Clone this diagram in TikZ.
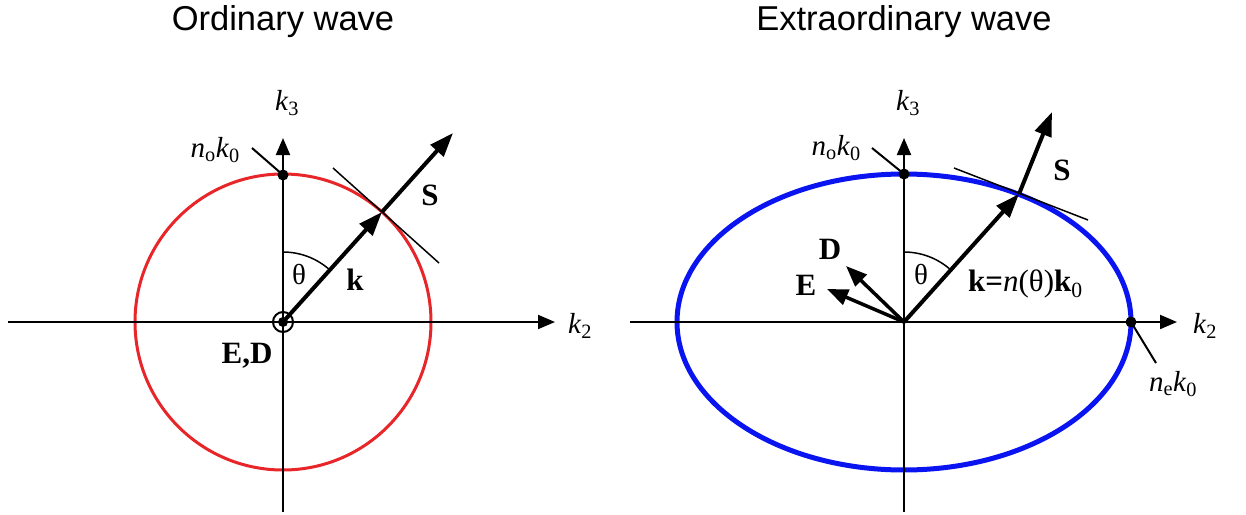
\documentclass[tikz,border=0pt]{standalone}
\usepackage{fontspec}
\setmainfont{Liberation Serif}
\newfontfamily\titlefont{Liberation Sans}
\usetikzlibrary{arrows.meta}
\definecolor{ordcol}{HTML}{E8262A}
\definecolor{extcol}{HTML}{0A14F0}
\newcommand{\nok}[1]{\textit{n}\textsubscript{#1}\textit{k}\textsubscript{0}}

\begin{document}
\begin{tikzpicture}[x=1pt,y=-1pt,
  title/.style={font=\titlefont\fontsize{34.5}{40}\selectfont},
  lbl/.style={font=\fontsize{29}{33}\selectfont,inner sep=0pt},
  vlbl/.style={font=\fontsize{31}{35}\selectfont\bfseries,inner sep=0pt},
  axis/.style={line width=2pt,-{Triangle[length=17pt,width=14pt]}},
  vec/.style={line width=4pt,-{Triangle[length=24pt,width=17pt]}},
  fld/.style={line width=3.5pt,-{Triangle[length=21pt,width=16pt]}},
  tang/.style={line width=1.5pt},
  lead/.style={line width=2pt},
  dot/.style={circle,fill,inner sep=0pt,minimum size=11pt}]
  \useasboundingbox (0,0) rectangle (1246,514);

  % ordinary wave
  \node[title] (otitle) at (283,22) {Ordinary wave};
  \coordinate (o) at (283,322);
  \draw[ordcol,line width=3pt] (o) circle[radius=148];
  \coordinate (oleft) at (8,322);
  \coordinate (oright) at (555,322);
  \coordinate (obot) at (283,512);
  \coordinate (otop) at (283,138);
  \draw[axis] (oleft) -- (oright);
  \draw[axis] (obot) -- (otop);
  \node[lbl] (ok2) at (580,326) {\textit{k}\textsubscript{2}};
  \node[lbl] (ok3) at (287,103) {\textit{k}\textsubscript{3}};
  \node[dot] (onk) at (283,175) {};
  \coordinate (onkend) at (252,148);
  \draw[lead] (onkend) -- (onk.center);
  \node[lbl,anchor=east] (onklbl) at (240,150) {\nok{o}};
  \coordinate (ok) at (382,212);
  \coordinate (os) at (453,133);
  \draw[vec] (o) -- (ok);
  \draw[vec] (ok) -- (os);
  \coordinate (ota) at (333,168);
  \coordinate (otb) at (439,263);
  \draw[tang] (ota) -- (otb);
  \draw[line width=1.5pt] (283,252) arc[start angle=-90,end angle=-48,radius=70];
  \node[lbl] (oth) at (299,274) {θ};
  \node[vlbl] (oklbl) at (355,280) {k};
  \node[vlbl] (oslbl) at (430,195) {S};
  \draw[line width=2pt] (o) circle[radius=10];
  \node[dot,minimum size=10pt] (oed) at (o) {};
  \node[vlbl] (oedlbl) at (247,356) {E,D};

  % extraordinary wave
  \node[title] (etitle) at (904,22) {Extraordinary wave};
  \coordinate (e) at (904,322);
  \draw[extcol,line width=5pt] (e) ellipse[x radius=227,y radius=148];
  \coordinate (eleft) at (630,322);
  \coordinate (eright) at (1177,322);
  \coordinate (ebot) at (904,512);
  \coordinate (etop) at (904,138);
  \draw[axis] (eleft) -- (eright);
  \draw[axis] (ebot) -- (etop);
  \node[lbl] (ek2) at (1205,326) {\textit{k}\textsubscript{2}};
  \node[lbl] (ek3) at (908,103) {\textit{k}\textsubscript{3}};
  \node[dot] (enk) at (904,174) {};
  \coordinate (enkend) at (872,148);
  \draw[lead] (enkend) -- (enk.center);
  \node[lbl,anchor=east] (enklbl) at (861,148) {\nok{o}};
  \node[dot] (enek) at (1131,322) {};
  \coordinate (enekend) at (1156,363);
  \draw[lead] (enek.center) -- (enekend);
  \node[lbl] (eneklbl) at (1173,384) {\nok{e}};
  \coordinate (ek) at (1019,194);
  \coordinate (es) at (1052,112);
  \draw[vec] (e) -- (ek);
  \draw[vec] (ek) -- (es);
  \coordinate (eta) at (954,168);
  \coordinate (etb) at (1088,220);
  \draw[tang] (eta) -- (etb);
  \coordinate (ed) at (846,266);
  \coordinate (ee) at (827,289);
  \draw[fld] (e) -- (ed);
  \draw[fld] (e) -- (ee);
  \draw[line width=1.5pt] (904,252) arc[start angle=-90,end angle=-48,radius=70];
  \node[lbl] (eth) at (921,274) {θ};
  \node[vlbl] (edlbl) at (830,249) {D};
  \node[vlbl] (eelbl) at (806,285) {E};
  \node[vlbl] (esllbl) at (1062,170) {S};
  \node[vlbl,anchor=west] (ekl) at (968,284) {k={\mdseries\itshape n}{\mdseries(θ)}k{\mdseries\textsubscript{0}}};
\end{tikzpicture}
\end{document}
